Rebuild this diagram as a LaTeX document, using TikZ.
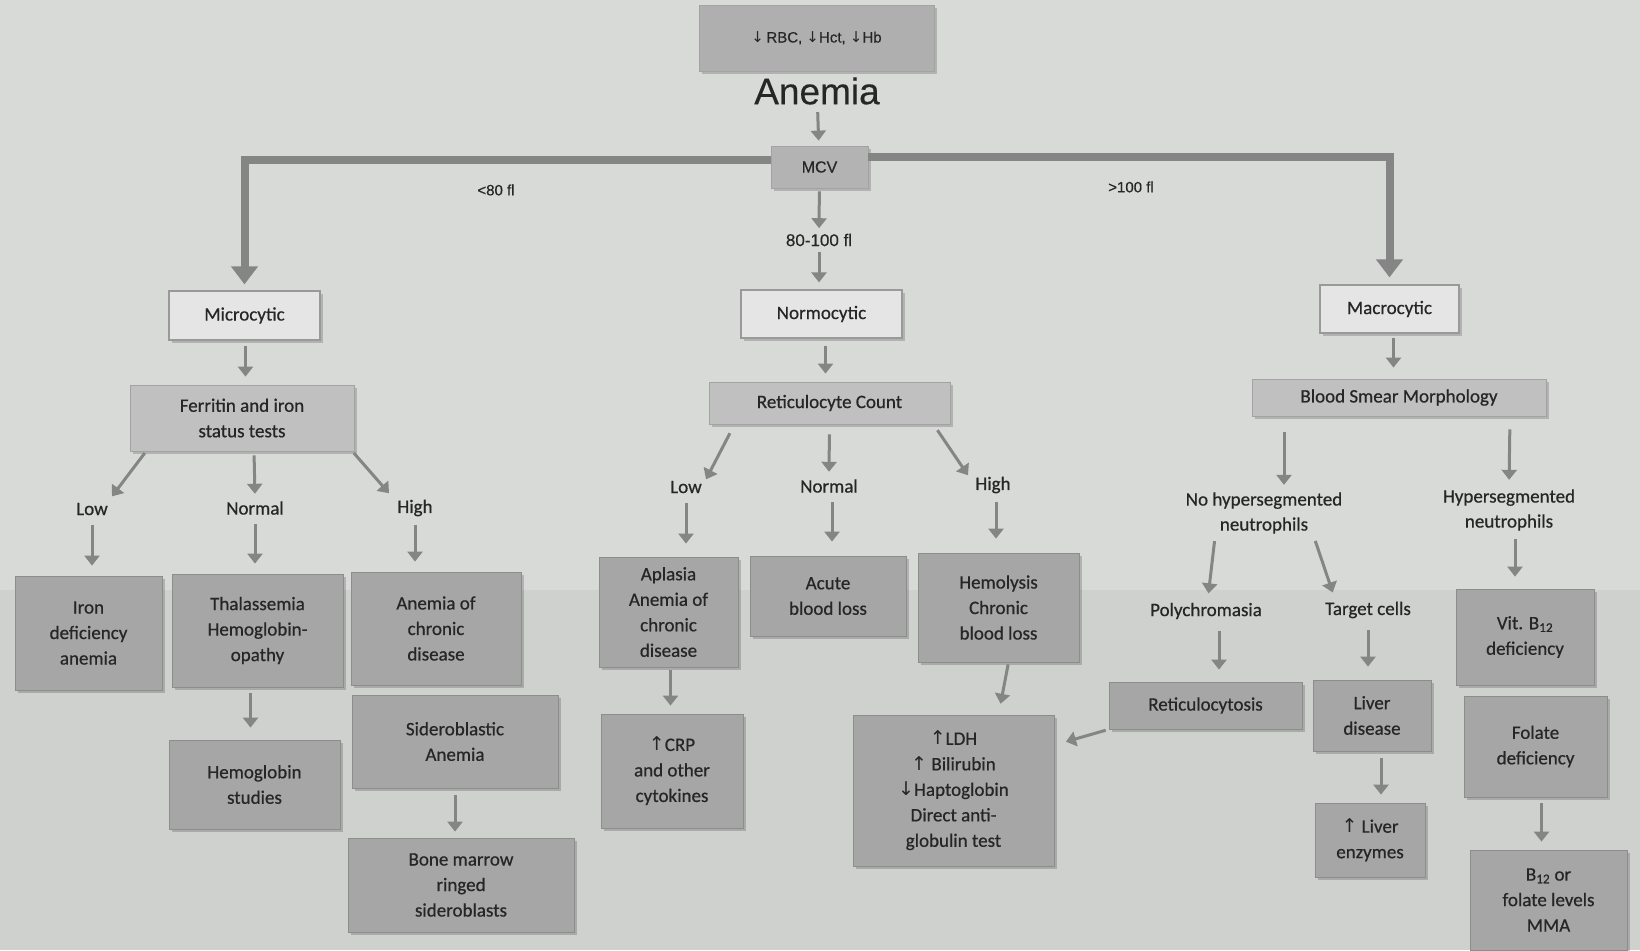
\documentclass[tikz,border=0pt]{standalone}
\usepackage{fontspec}
\setmainfont{Carlito}
\newfontfamily\heavyf{Carlito}[FakeBold=0.6]
\newfontfamily\arialf{Liberation Sans}[FakeBold=0.4]
\newfontfamily\symf{DejaVu Sans}
\usetikzlibrary{arrows.meta,shadows,calc}
\definecolor{bgc}{HTML}{D8DAD8}
\definecolor{bgb}{HTML}{CFD1CF}
\definecolor{darkbox}{HTML}{A6A6A6}
\definecolor{midbox}{HTML}{C0C0C0}
\definecolor{lightbox}{HTML}{E4E5E4}
\definecolor{ink}{HTML}{262626}
\definecolor{arrc}{HTML}{858585}
\newcommand{\up}{{\symf\char"2191}}
\newcommand{\dn}{{\symf\char"2193}}
\tikzset{
  basebox/.style={rectangle, inner sep=0pt, align=center, text=ink,
     font=\heavyf\fontsize{19}{25.5}\selectfont,
     drop shadow={shadow xshift=3pt, shadow yshift=-3pt, fill=black, opacity=0.18}},
  dbox/.style={basebox, fill=darkbox, draw=darkbox!85!black, line width=0.8pt},
  mbox/.style={basebox, fill=midbox, draw=midbox!85!black, line width=0.8pt},
  lbox/.style={basebox, fill=lightbox, draw=black!40, line width=1.2pt},
  lbl/.style={text=ink, align=center, font=\heavyf\fontsize{19}{25}\selectfont},
  albl/.style={text=ink, font=\arialf\fontsize{15}{18}\selectfont},
  arr/.style={draw=arrc, line width=3pt, -{Triangle[width=15pt,length=10pt]}},
  bigarr/.style={draw=arrc, line width=8pt, -{Triangle[width=26pt,length=18pt]}},
}
\begin{document}
\begin{tikzpicture}[x=1pt,y=-1pt]
\useasboundingbox (0,0) rectangle (1640,950);
\fill[bgc] (0,0) rectangle (1640,950);
\fill[bgb] (0,590) rectangle (1640,950);

% top
\node[mbox, fill=darkbox!90!white, minimum width=235pt, minimum height=66pt, font=\arialf\fontsize{15}{18}\selectfont] (top) at (816.5,38) {\dn\,RBC, \dn Hct, \dn Hb};
\node[text=ink, font=\arialf\fontsize{37}{40}\selectfont] (anemia) at (817,91) {Anemia};
\node[mbox, fill=darkbox!85!white, minimum width=97pt, minimum height=42pt, font=\arialf\fontsize{16}{18}\selectfont] (mcv) at (819.5,167) {MCV};

\node[albl] (lt80) at (496,190) {<80 fl};
\node[albl] (gt100) at (1131,187) {>100 fl};
\node[albl, font=\arialf\fontsize{17}{20}\selectfont] (mid) at (819,240) {80-100 fl};

% level 2
\node[lbox, minimum width=151pt, minimum height=49pt] (micro) at (244.5,315.5) {Microcytic};
\node[lbox, minimum width=161pt, minimum height=48pt] (normo) at (821.5,314) {Normocytic};
\node[lbox, minimum width=139pt, minimum height=48pt] (macro) at (1389.5,309) {Macrocytic};

% level 3
\node[mbox, minimum width=224pt, minimum height=66pt] (ferr) at (242,418) {Ferritin and iron\\status tests};
\node[mbox, minimum width=241pt, minimum height=42pt] (retic) at (829.5,403) {Reticulocyte Count};
\node[mbox, minimum width=294pt, minimum height=37pt] (bsm) at (1399,397.5) {Blood Smear Morphology};

% labels
\node[lbl] (flow) at (92,509) {Low};
\node[lbl] (fnorm) at (255,508) {Normal};
\node[lbl] (fhigh) at (415,508) {High};
\node[lbl] (rlow) at (686,487) {Low};
\node[lbl] (rnorm) at (829,486) {Normal};
\node[lbl] (rhigh) at (993,485) {High};
\node[lbl] (nohs) at (1264,513) {No hypersegmented\\neutrophils};
\node[lbl] (hs) at (1509,510) {Hypersegmented\\neutrophils};
\node[lbl] (poly) at (1206,611) {Polychromasia};
\node[lbl] (target) at (1368,610) {Target cells};

% microcytic branch
\node[dbox, minimum width=147pt, minimum height=114pt] (iron) at (88.5,633) {Iron\\deficiency\\anemia};
\node[dbox, minimum width=171pt, minimum height=113pt] (thal) at (257.5,630.5) {Thalassemia\\Hemoglobin-\\opathy};
\node[dbox, minimum width=170pt, minimum height=113pt] (acd) at (436,628.5) {Anemia of\\chronic\\disease};
\node[dbox, minimum width=171pt, minimum height=89pt] (hbs) at (254.5,784.5) {Hemoglobin\\studies};
\node[dbox, minimum width=206pt, minimum height=93pt] (sidero) at (455,741.5) {Sideroblastic\\Anemia};
\node[dbox, minimum width=226pt, minimum height=94pt] (bone) at (461,885) {Bone marrow\\ringed\\sideroblasts};

% normocytic branch
\node[dbox, minimum width=139pt, minimum height=110pt] (apl) at (668.5,612) {Aplasia\\Anemia of\\chronic\\disease};
\node[dbox, minimum width=156pt, minimum height=80pt] (acute) at (828,596) {Acute\\blood loss};
\node[dbox, minimum width=161pt, minimum height=109pt] (hemo) at (998.5,607.5) {Hemolysis\\Chronic\\blood loss};
\node[dbox, minimum width=142pt, minimum height=114pt] (crp) at (672,771) {\up CRP\\and other\\cytokines};
\node[dbox, minimum width=201pt, minimum height=151pt] (ldh) at (953.5,790.5) {\up LDH\\\up\ Bilirubin\\\dn Haptoglobin\\Direct anti-\\globulin test};

% macrocytic branch
\node[dbox, minimum width=193pt, minimum height=47pt] (rcyt) at (1205.5,705.5) {Reticulocytosis};
\node[dbox, minimum width=118pt, minimum height=71pt] (liver) at (1372,715.5) {Liver\\disease};
\node[dbox, minimum width=110pt, minimum height=74pt] (enz) at (1370,840) {\up\ Liver\\enzymes};
\node[dbox, minimum width=138pt, minimum height=96pt] (vit) at (1525,637) {Vit. B\textsubscript{12}\\deficiency};
\node[dbox, minimum width=143pt, minimum height=101pt] (fol) at (1535.5,746.5) {Folate\\deficiency};
\node[dbox, minimum width=157pt, minimum height=100pt] (b12) at (1548.5,900) {B\textsubscript{12} or\\folate levels\\MMA};

% thick MCV connectors
\draw[bigarr] ([yshift=7pt]mcv.west) -| ([yshift=6pt]micro.north);
\draw[bigarr] ([yshift=10pt]mcv.east) -| ([yshift=7pt]macro.north);

% arrows
\draw[arr, shorten <=4pt, shorten >=5pt] (anemia) -- (mcv);
\draw[arr, shorten <=3pt, shorten >=2pt] (mcv) -- (mid);
\draw[arr, shorten <=2pt, shorten >=7pt] (mid) -- (mid |- normo.north);
\draw[arr, shorten <=5pt, shorten >=8pt] ([xshift=1pt]micro.south) -- ([xshift=1pt]micro.south |- ferr.north);
\draw[arr, shorten <=7pt, shorten >=8pt] ([xshift=4pt]normo.south) -- ([xshift=4pt]normo.south |- retic.north);
\draw[arr, shorten <=4pt, shorten >=11pt] ([xshift=4pt]macro.south) -- ([xshift=4pt]macro.south |- bsm.north);

\draw[arr, shorten <=2pt, shorten >=0pt] ([xshift=-96pt]ferr.south) -- ([xshift=20pt,yshift=3pt]flow.north);
\draw[arr, shorten <=4pt, shorten >=2pt] ([xshift=12pt]ferr.south) -- ([yshift=2pt]fnorm.north);
\draw[arr, shorten <=2pt, shorten >=0pt] ([xshift=-2pt]ferr.south east) -- ([xshift=-26pt,yshift=3pt]fhigh.north);
\draw[arr, shorten <=6pt, shorten >=10pt] (flow) -- (flow |- iron.north);
\draw[arr, shorten <=6pt, shorten >=10pt] (fnorm) -- (fnorm |- thal.north);
\draw[arr, shorten <=5pt, shorten >=10pt] (fhigh) -- (fhigh |- acd.north);
\draw[arr, shorten <=6pt, shorten >=12pt] ([xshift=-7pt]thal.south) -- ([xshift=-7pt]thal.south |- hbs.north);
\draw[arr, shorten <=7pt, shorten >=6pt] (sidero.south) -- (sidero.south |- bone.north);

\draw[arr, shorten <=10pt, shorten >=0pt] ([xshift=-95pt]retic.south) -- ([xshift=20pt,yshift=-2pt]rlow.north);
\draw[arr, shorten <=10pt, shorten >=2pt] (retic.south) -- ([yshift=2pt]rnorm.north);
\draw[arr, shorten <=7pt, shorten >=0pt] ([xshift=104pt]retic.south) -- ([xshift=-25pt,yshift=-2pt]rhigh.north);
\draw[arr, shorten <=6pt, shorten >=13pt] (rlow) -- (rlow |- apl.north);
\draw[arr, shorten <=6pt, shorten >=14pt] ([xshift=3pt]rnorm.south) -- ([xshift=3pt]rnorm.south |- acute.north);
\draw[arr, shorten <=5pt, shorten >=14pt] ([xshift=3pt]rhigh.south) -- ([xshift=3pt]rhigh.south |- hemo.north);
\draw[arr, shorten <=3pt, shorten >=8pt] ([xshift=2pt]apl.south) -- ([xshift=2pt]apl.south |- crp.north);
\draw[arr, shorten <=2pt, shorten >=11pt] ([xshift=10pt]hemo.south) -- ([xshift=45pt]ldh.north);
\draw[arr, shorten <=3pt, shorten >=12pt] (rcyt.south west) -- (ldh.north east |- 0,745);

\draw[arr, shorten <=16pt, shorten >=4pt] ([xshift=-115pt]bsm.south) -- ([xshift=20pt]nohs.north);
\draw[arr, shorten <=13pt, shorten >=6pt] ([xshift=111pt]bsm.south) -- (hs.north);
\draw[arr, shorten <=4pt, shorten >=4pt] ([xshift=-49pt]nohs.south) -- ([xshift=2pt,yshift=2pt]poly.north);
\draw[arr, shorten <=4pt, shorten >=4pt] ([xshift=50pt]nohs.south) -- ([xshift=-34pt,yshift=2pt]target.north);
\draw[arr, shorten <=5pt, shorten >=12pt] ([xshift=6pt]hs.south) -- ([xshift=6pt]hs.south |- vit.north);
\draw[arr, shorten <=8pt, shorten >=12pt] ([xshift=13pt]poly.south) -- ([xshift=13pt]poly.south |- rcyt.north);
\draw[arr, shorten <=8pt, shorten >=13pt] (target.south) -- (target.south |- liver.north);
\draw[arr, shorten <=7pt, shorten >=8pt] ([xshift=9pt]liver.south) -- ([xshift=9pt]liver.south |- enz.north);
\draw[arr, shorten <=6pt, shorten >=8pt] ([xshift=6pt]fol.south) -- ([xshift=6pt]fol.south |- b12.north);
\end{tikzpicture}
\end{document}
